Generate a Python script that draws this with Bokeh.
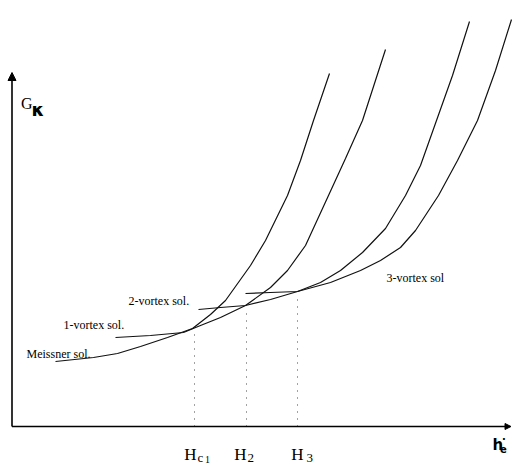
from bokeh.plotting import figure
from bokeh.models import Range1d, Arrow, NormalHead, Label
from bokeh.embed import file_html
from bokeh.resources import INLINE

# ---- data (schematic units: h_e along x, G_kappa along y) ----
meissner_h = [8.6, 16.2, 21.0, 25.6, 31.0, 36.0, 39.6, 42.6, 47.6, 50.6, 55.0, 57.6, 60.2, 63.4]
meissner_g = [13.0, 13.8, 14.6, 16.0, 17.8, 19.6, 22.4, 25.2, 32.2, 37.2, 46.2, 53.2, 61.2, 70.6]

vortex1_h = [20.6, 27.6, 34.2, 37.6, 41.6, 46.6, 51.6, 55.0, 58.6, 63.2, 66.6, 70.0, 74.6]
vortex1_g = [17.8, 18.2, 18.8, 20.2, 21.8, 24.2, 27.8, 31.2, 36.2, 46.2, 53.6, 61.2, 75.4]

vortex2_h = [37.2, 41.6, 46.6, 51.6, 57.0, 61.6, 65.6, 70.0, 74.6, 78.6, 81.6, 84.8, 88.0, 91.4]
vortex2_g = [23.4, 23.8, 24.2, 25.4, 27.0, 28.8, 31.2, 34.8, 39.6, 46.2, 52.2, 61.2, 70.2, 81.0]

vortex3_h = [46.6, 51.6, 57.0, 63.6, 69.6, 73.6, 77.6, 80.6, 85.2, 89.0, 93.0, 96.6, 99.8]
vortex3_g = [26.6, 26.8, 27.0, 28.8, 31.2, 33.2, 35.8, 39.2, 46.2, 53.2, 61.2, 71.2, 81.4]

crit_h = [36.4, 46.8, 57.0]      # H_c1, H_2, H_3
crit_g = [18.6, 23.0, 26.0]      # top of the dotted guides
crit_sub = ["c", "2", "3"]

axis_h_max = 99.7
axis_g_max = 70.8

p = figure(width=512, height=465,
           x_range=Range1d(-2.4, 100.0), y_range=Range1d(-7.8, 85.2),
           output_backend="svg", toolbar_location=None,
           x_axis_location=None, y_axis_location=None, min_border=0)
p.grid.visible = False
p.outline_line_color = None
p.background_fill_color = "white"
p.border_fill_color = "white"

# axes as arrows
p.add_layout(Arrow(end=NormalHead(size=8, fill_color="black", line_color="black"),
                   x_start=-0.1, y_start=0, x_end=-0.1, y_end=axis_g_max,
                   line_width=1.6, line_color="black"))
p.add_layout(Arrow(end=NormalHead(size=6, fill_color="black", line_color="black"),
                   x_start=-0.1, y_start=0, x_end=axis_h_max, y_end=0,
                   line_width=1.6, line_color="black"))

# dotted guides
p.segment(x0=crit_h, y0=[0] * len(crit_h), x1=crit_h, y1=crit_g,
          line_dash="1 6", line_color="#444444", line_width=1)

# curves
for hs, gs in [(meissner_h, meissner_g), (vortex1_h, vortex1_g),
               (vortex2_h, vortex2_g), (vortex3_h, vortex3_g)]:
    p.line(hs, gs, line_color="#111111", line_width=1.2)

serif = "Liberation Serif"
DY = 0.8  # text baseline correction

def lab(x, y, text, size, font=serif, style="normal", align="left"):
    p.add_layout(Label(x=x, y=y + DY, text=text, text_font=font, text_font_size=size,
                       text_font_style=style, text_align=align,
                       text_baseline="alphabetic", text_color="black"))

lab(2.8, 13.8, "Meissner sol.", "12px")
lab(10.2, 19.6, "1-vortex sol.", "12px")
lab(23.2, 24.3, "2-vortex sol.", "12px")
lab(74.8, 28.9, "3-vortex sol", "12px")

lab(1.7, 63.8, "G", "16px")
lab(3.8, 62.7, "κ", "18px", font="DejaVu Sans", style="bold")

lab(96.0, -4.4, "h", "15px", font="DejaVu Sans", style="bold")
lab(97.5, -5.2, "e", "10px", font="DejaVu Sans", style="bold")
lab(97.9, -2.6, ".", "10px", font="DejaVu Sans", style="bold")

h_right = [36.8, 46.8, 58.2]
sub_left = [37.0, 47.0, 58.8]
for hr, sl, s in zip(h_right, sub_left, crit_sub):
    lab(hr, -6.4, "H", "17px", align="right")
    lab(sl, -7.0, s, "13px")
lab(38.5, -7.4, "1", "10px")

open("out.html", "w").write(file_html(p, INLINE))
